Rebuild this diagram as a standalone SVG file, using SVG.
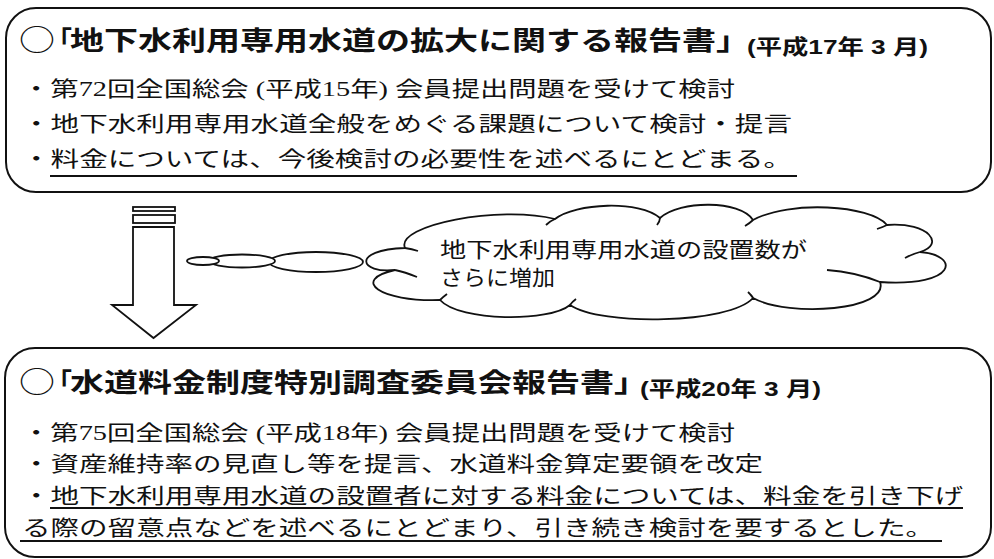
<svg xmlns="http://www.w3.org/2000/svg" width="994" height="559" viewBox="0 0 994 559">
<style>
.box{fill:none;stroke:#111;stroke-width:2}
.ttl{font-family:"Liberation Sans","Noto Sans CJK JP",sans-serif;font-weight:bold;font-size:26px;fill:#111}
.circ{font-family:"Noto Sans CJK JP",sans-serif;font-size:29px;fill:#111}
.sub{font-family:"Liberation Sans","Noto Sans CJK JP",sans-serif;font-weight:bold;font-size:21px;fill:#111}
.body{font-family:"Liberation Serif","Noto Sans CJK JP",serif;font-size:21px;fill:#111}
.cl{font-family:"Liberation Sans","Noto Sans CJK JP",sans-serif;font-size:21px;fill:#111}
.ul{stroke:#111;stroke-width:2}
.ln{fill:#fff;stroke:#111;stroke-width:1.8}
.cr{fill:none;stroke:#111;stroke-width:1.8}
</style>
<g id="report2005">
<rect class="box" x="6" y="8" width="985" height="184" rx="30" ry="30"/>
<text class="circ" x="19" y="51" textLength="36" lengthAdjust="spacingAndGlyphs">○</text>
<text class="ttl" x="46" y="50" textLength="26" lengthAdjust="spacingAndGlyphs">「</text>
<text class="ttl" x="70" y="50" textLength="680" lengthAdjust="spacingAndGlyphs">地下水利用専用水道の拡大に関する報告書」</text>
<text class="sub" x="747" y="54" textLength="181" lengthAdjust="spacingAndGlyphs">(平成17年 3 月)</text>
<text class="body" x="22" y="96" textLength="713" lengthAdjust="spacingAndGlyphs">・第72回全国総会 (平成15年) 会員提出問題を受けて検討</text>
<text class="body" x="22" y="131" textLength="770" lengthAdjust="spacingAndGlyphs">・地下水利用専用水道全般をめぐる課題について検討・提言</text>
<text class="body" x="22" y="166" textLength="770" lengthAdjust="spacingAndGlyphs">・料金については、今後検討の必要性を述べるにとどまる。</text>
<line class="ul" x1="50" y1="176" x2="797" y2="176"/>
</g>
<g id="arrow">
<rect class="ln" x="133" y="207" width="42" height="4"/>
<rect class="ln" x="133" y="215" width="42" height="8"/>
<path class="ln" d="M133,227 H174 V305 H196 L153.5,338 L112,305 H133 Z"/>
</g>
<g id="cloud">
<ellipse class="ln" cx="316" cy="262" rx="47" ry="10"/>
<ellipse class="ln" cx="242" cy="261" rx="33" ry="6.5"/>
<ellipse class="ln" cx="203" cy="261" rx="16" ry="4"/>
<path class="ln" d="M405,248 C395,225 500,205 555,219 C575,203 640,200 660,218 C680,200 740,200 753,220 C790,200 870,205 887,225 C930,222 945,245 920,252 C960,255 958,287 880,282 C890,310 790,318 753,298 C730,324 600,326 570,305 C550,322 460,322 440,300 C380,302 350,280 395,270 C360,274 350,250 405,248 Z"/>
<path class="cr" d="M405,248 Q412,249 418,251 M395,270 Q405,272 417,277 M555,219 Q550,221 546,225 M660,218 Q660,221 657,225 M753,220 Q750,223 745,226 M887,225 Q883,227 877,229 M920,252 Q912,254 905,258 M880,282 Q855,272 827,270 M753,298 Q752,296 748,292 M570,305 Q572,302 576,299 M440,300 Q443,297 447,294"/>
<text class="cl" x="440" y="257" textLength="367" lengthAdjust="spacingAndGlyphs">地下水利用専用水道の設置数が</text>
<text class="cl" x="440" y="285" textLength="115" lengthAdjust="spacingAndGlyphs">さらに増加</text>
</g>
<g id="report2008">
<rect class="box" x="5" y="348" width="986" height="209" rx="30" ry="30"/>
<text class="circ" x="19" y="393" textLength="36" lengthAdjust="spacingAndGlyphs">○</text>
<text class="ttl" x="46" y="392" textLength="26" lengthAdjust="spacingAndGlyphs">「</text>
<text class="ttl" x="70" y="392" textLength="578" lengthAdjust="spacingAndGlyphs">水道料金制度特別調査委員会報告書」</text>
<text class="sub" x="640" y="396" textLength="181" lengthAdjust="spacingAndGlyphs">(平成20年 3 月)</text>
<text class="body" x="22" y="440" textLength="713" lengthAdjust="spacingAndGlyphs">・第75回全国総会 (平成18年) 会員提出問題を受けて検討</text>
<text class="body" x="22" y="471" textLength="741" lengthAdjust="spacingAndGlyphs">・資産維持率の見直し等を提言、水道料金算定要領を改定</text>
<text class="body" x="22" y="503" textLength="941" lengthAdjust="spacingAndGlyphs">・地下水利用専用水道の設置者に対する料金については、料金を引き下げ</text>
<text class="body" x="22" y="535" textLength="912" lengthAdjust="spacingAndGlyphs">る際の留意点などを述べるにとどまり、引き続き検討を要するとした。</text>
<line class="ul" x1="50" y1="508" x2="963" y2="508"/>
<line class="ul" x1="20" y1="541" x2="942" y2="541"/>
</g>
</svg>
